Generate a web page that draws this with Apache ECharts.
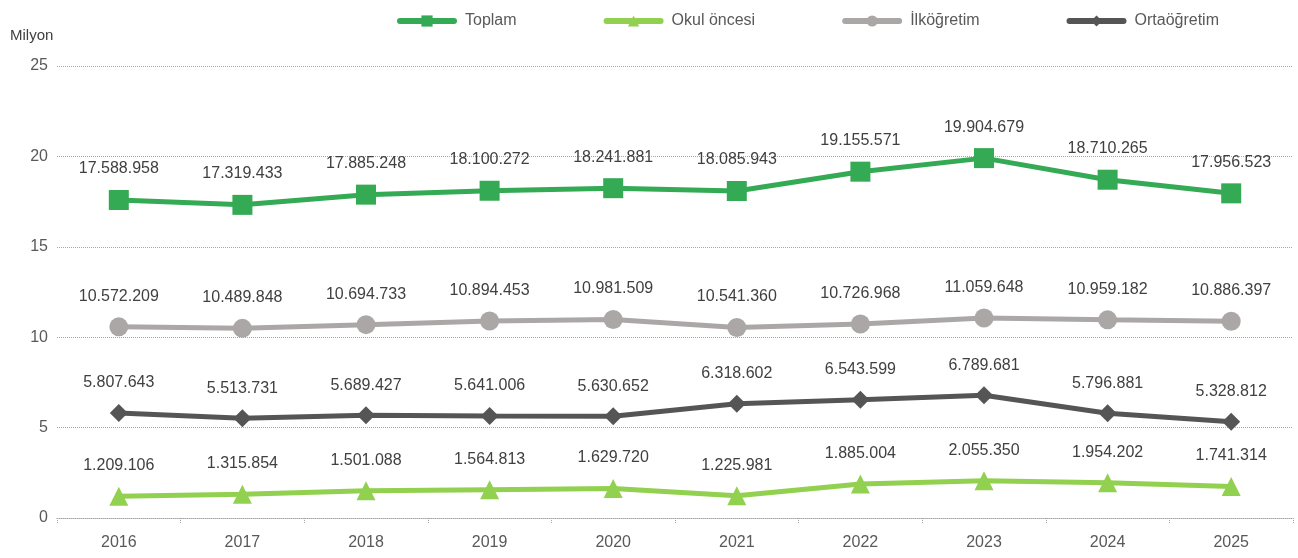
<!DOCTYPE html>
<html>
<head>
<meta charset="utf-8">
<script src="https://cdn.jsdelivr.net/npm/echarts@6/dist/echarts.min.js"></script>
<style>
  html, body { margin: 0; padding: 0; background: #fff; }
  #chart { width: 1298px; height: 558px; }
</style>
</head>
<body>
<div id="chart"></div>
<script>
// yıllar
const years = ['2016', '2017', '2018', '2019', '2020', '2021', '2022', '2023', '2024', '2025'];
// öğrenci sayıları (kişi)
const toplam = [17588958, 17319433, 17885248, 18100272, 18241881, 18085943, 19155571, 19904679, 18710265, 17956523];
const okulOncesi = [1209106, 1315854, 1501088, 1564813, 1629720, 1225981, 1885004, 2055350, 1954202, 1741314];
const ilkogretim = [10572209, 10489848, 10694733, 10894453, 10981509, 10541360, 10726968, 11059648, 10959182, 10886397];
const ortaogretim = [5807643, 5513731, 5689427, 5641006, 5630652, 6318602, 6543599, 6789681, 5796881, 5328812];

const fmt = v => String(v).replace(/\B(?=(\d{3})+(?!\d))/g, '.');
const font = 'Liberation Sans, Arial, sans-serif';

const mkSeries = (name, data, color, symbol, size) => ({
  name: name,
  type: 'line',
  data: data,
  symbol: symbol,
  symbolSize: size,
  showAllSymbol: true,
  lineStyle: { color: color, width: 5 },
  itemStyle: { color: color },
  label: {
    show: true,
    position: 'top',
    distance: 13,
    color: '#404040',
    fontSize: 16,
    fontFamily: font,
    formatter: p => fmt(p.value)
  },
  emphasis: { disabled: true }
});

const myChart = echarts.init(document.getElementById('chart'));
const option = {
  backgroundColor: '#fff',
  animation: false,
  title: {
    text: 'Milyon',
    left: 5,
    top: 23,
    textStyle: { fontSize: 15, fontWeight: 'normal', color: '#404040', fontFamily: font }
  },
  legend: {
    left: 392,
    top: 8,
    itemWidth: 54,
    itemHeight: 14,
    itemGap: 87,
    lineStyle: { width: 6, cap: 'round' },
    textStyle: { fontSize: 16, color: '#595959', fontFamily: font, padding: [0, 0, 0, 6] },
    data: ['Toplam', 'Okul öncesi', 'İlköğretim', 'Ortaöğretim']
  },
  grid: { left: 57, right: 5, top: 66, bottom: 40, containLabel: false },
  xAxis: {
    type: 'category',
    data: years,
    boundaryGap: true,
    axisLine: { show: true, lineStyle: { color: '#a6a6a6', type: 'dotted', width: 1 } },
    axisTick: { show: true, length: 5, lineStyle: { color: '#a6a6a6', type: 'dotted' } },
    axisLabel: { color: '#595959', fontSize: 16, fontFamily: font, margin: 17 }
  },
  yAxis: {
    type: 'value',
    min: 0,
    max: 25000000,
    interval: 5000000,
    axisLine: { show: false },
    axisTick: { show: false },
    axisLabel: { color: '#595959', fontSize: 16, fontFamily: font, margin: 9, formatter: v => v / 1000000 },
    splitLine: { lineStyle: { color: '#a6a6a6', type: 'dotted', width: 1 } }
  },
  series: [
    mkSeries('Toplam', toplam, '#35aa55', 'rect', 20),
    mkSeries('Okul öncesi', okulOncesi, '#92d050', 'triangle', 19),
    mkSeries('İlköğretim', ilkogretim, '#aba7a7', 'circle', 19),
    mkSeries('Ortaöğretim', ortaogretim, '#555555', 'diamond', 18)
  ]
};
myChart.setOption(option);
</script>
</body>
</html>
